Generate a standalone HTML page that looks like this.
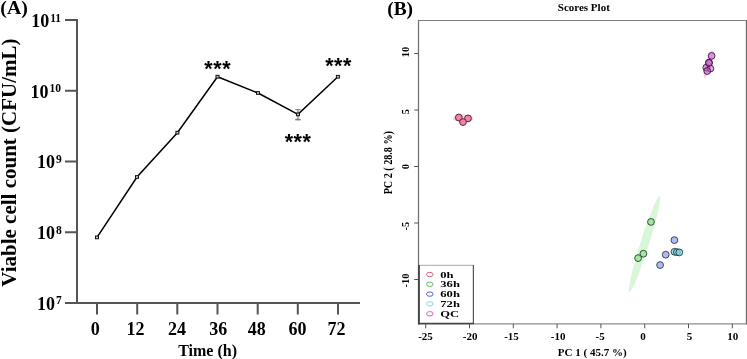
<!DOCTYPE html>
<html><head><meta charset="utf-8"><style>
html,body{margin:0;padding:0;background:#fff;width:747px;height:359px;overflow:hidden}
svg{display:block;will-change:transform}
text{font-family:"Liberation Serif",serif;font-weight:bold;fill:#000}
.sans{font-family:"Liberation Sans",sans-serif}
</style></head><body>
<svg width="747" height="359" viewBox="0 0 747 359">
<!-- ===== Panel A ===== -->
<text x="0.3" y="13.5" font-size="19.8">(A)</text>
<!-- axes -->
<g stroke="#555" stroke-width="2" fill="none">
<line x1="77" y1="19" x2="77" y2="304"/>
<line x1="65" y1="303" x2="360" y2="303"/>
<line x1="65" y1="20" x2="77" y2="20"/>
<line x1="65" y1="90.75" x2="77" y2="90.75"/>
<line x1="65" y1="161.5" x2="77" y2="161.5"/>
<line x1="65" y1="232.25" x2="77" y2="232.25"/>
<line x1="97" y1="303" x2="97" y2="314.5"/>
<line x1="137.2" y1="303" x2="137.2" y2="314.5"/>
<line x1="177.3" y1="303" x2="177.3" y2="314.5"/>
<line x1="217.5" y1="303" x2="217.5" y2="314.5"/>
<line x1="257.7" y1="303" x2="257.7" y2="314.5"/>
<line x1="297.8" y1="303" x2="297.8" y2="314.5"/>
<line x1="338" y1="303" x2="338" y2="314.5"/>
</g>
<!-- y tick labels -->
<g font-size="18" text-anchor="end">
<text x="61" y="27">10<tspan font-size="11.5" dy="-5.5" dx="1">11</tspan></text>
<text x="61" y="97.8">10<tspan font-size="11.5" dy="-5.5" dx="1">10</tspan></text>
<text x="61.8" y="168.4">10<tspan font-size="11.5" dy="-5.5" dx="1">9</tspan></text>
<text x="61.8" y="239">10<tspan font-size="11.5" dy="-5.5" dx="1">8</tspan></text>
<text x="61.8" y="309.7">10<tspan font-size="11.5" dy="-5.5" dx="1">7</tspan></text>
</g>
<!-- x tick labels -->
<g font-size="18" text-anchor="middle">
<text x="95.3" y="334.6">0</text>
<text x="135.4" y="334.6">12</text>
<text x="177.1" y="334.6">24</text>
<text x="218.3" y="334.6">36</text>
<text x="256.8" y="334.6">48</text>
<text x="297.6" y="334.6">60</text>
<text x="336.5" y="334.6">72</text>
</g>
<text x="207.6" y="355.7" font-size="16" text-anchor="middle">Time (h)</text>
<text transform="translate(15.6,162.6) rotate(-90)" font-size="21" text-anchor="middle">Viable cell count (CFU/mL)</text>
<!-- error bar -->
<g stroke="#7a7a7a">
<line x1="297.95" y1="109.6" x2="297.95" y2="119.6" stroke-width="1.2"/>
<line x1="295.3" y1="109.6" x2="300.6" y2="109.6" stroke-width="1"/>
<line x1="295.3" y1="119.6" x2="300.6" y2="119.6" stroke-width="1.6"/>
</g>
<!-- data line -->

<polyline points="97,237.4 137,177 177.4,132.7 217.5,76.7 258,93 297.95,114.4 337.9,76.75" fill="none" stroke="#000" stroke-width="1.5" stroke-linejoin="miter"/>
<g fill="#c4c4c4" stroke="#111" stroke-width="1">
<rect x="95.50" y="236.05" width="3" height="2.7"/>
<rect x="135.50" y="175.65" width="3" height="2.7"/>
<rect x="175.90" y="131.35" width="3" height="2.7"/>
<rect x="216.00" y="75.35" width="3" height="2.7"/>
<rect x="256.50" y="91.65" width="3" height="2.7"/>
<rect x="296.45" y="113.05" width="3" height="2.7"/>
<rect x="336.40" y="75.40" width="3" height="2.7"/>
</g>

<!-- asterisks -->
<g class="sans" font-size="21.5" text-anchor="middle" letter-spacing="0.6">
<text class="sans" x="217.8" y="76.2">***</text>
<text class="sans" x="298.1" y="148.9">***</text>
<text class="sans" x="338.6" y="73.2">***</text>
</g>

<!-- ===== Panel B ===== -->
<text x="387.2" y="15" font-size="19.4">(B)</text>
<text x="583.8" y="10.9" font-size="11" text-anchor="middle">Scores Plot</text>
<line x1="417.9" y1="20.46" x2="747" y2="20.46" stroke="#7d7d7d" stroke-width="1.1"/>
<line x1="418.5" y1="20" x2="418.5" y2="324.5" stroke="#707070" stroke-width="1.25"/>
<line x1="746.4" y1="20" x2="746.4" y2="324.5" stroke="#707070" stroke-width="1.2"/>
<line x1="418" y1="323.9" x2="747" y2="323.9" stroke="#8c8c8c" stroke-width="1.4"/>
<!-- ellipses -->
<ellipse cx="463.2" cy="118.4" rx="10.3" ry="3.8" fill="#f8ccd9"/>
<ellipse cx="644.45" cy="244.3" rx="50.3" ry="4.3" fill="#d8f6d8" transform="rotate(-72.5 644.45 244.3)"/>
<ellipse cx="708.5" cy="64" rx="14" ry="3" fill="#f0c8f0" transform="rotate(-74 708.5 64)"/>
<!-- points -->
<g stroke="#333" stroke-width="0.9">
<g fill="#ef84a8" stroke="#4a2030">
<circle cx="458.8" cy="117.5" r="3.4"/>
<circle cx="468" cy="118.4" r="3.4"/>
<circle cx="463" cy="122.1" r="3.4"/>
</g>
<g fill="#a2e8a2" stroke="#2a3f2a">
<circle cx="650.95" cy="221.9" r="3.4"/>
<circle cx="643.4" cy="253.7" r="3.4"/>
<circle cx="638.1" cy="258.1" r="3.4"/>
</g>
<g fill="#b2bbf0" stroke="#30344a">
<circle cx="674.4" cy="240.1" r="3.4"/>
<circle cx="665.7" cy="254.7" r="3.4"/>
<circle cx="660.1" cy="265.05" r="3.4"/>
</g>
<g fill="#7fd6e3" fill-opacity="0.75" stroke="#22383c">
<circle cx="674.5" cy="251.8" r="3.4"/>
<circle cx="676.9" cy="252.1" r="3.4"/>
<circle cx="679.3" cy="252.4" r="3.4"/>
</g>
<g fill="#c85ad2" fill-opacity="0.55" stroke="#3a1a3a">
<circle cx="706.3" cy="67.6" r="3.4"/>
<circle cx="710.4" cy="68.6" r="3.4"/>
<circle cx="707.2" cy="71" r="3.4"/>
<circle cx="708.9" cy="62.7" r="3.4"/>
<circle cx="709.0" cy="62.9" r="3.4"/>
<circle cx="711.6" cy="55.9" r="3.4"/>
</g>
</g>
<!-- ticks -->
<g stroke="#555" stroke-width="1">
<line x1="414.2" y1="53.5" x2="418.5" y2="53.5"/>
<line x1="414.2" y1="110" x2="418.5" y2="110"/>
<line x1="414.2" y1="166.5" x2="418.5" y2="166.5"/>
<line x1="414.2" y1="223" x2="418.5" y2="223"/>
<line x1="414.2" y1="279.5" x2="418.5" y2="279.5"/>
<line x1="425.7" y1="323.9" x2="425.7" y2="328.3"/>
<line x1="469.5" y1="323.9" x2="469.5" y2="328.3"/>
<line x1="513.3" y1="323.9" x2="513.3" y2="328.3"/>
<line x1="557.1" y1="323.9" x2="557.1" y2="328.3"/>
<line x1="600.9" y1="323.9" x2="600.9" y2="328.3"/>
<line x1="644.7" y1="323.9" x2="644.7" y2="328.3"/>
<line x1="688.5" y1="323.9" x2="688.5" y2="328.3"/>
<line x1="732.3" y1="323.9" x2="732.3" y2="328.3"/>
</g>
<g font-size="11" text-anchor="middle">
<text x="425.5" y="339.9">-25</text>
<text x="470.2" y="339.9">-20</text>
<text x="511.5" y="339.9">-15</text>
<text x="558.2" y="339.9">-10</text>
<text x="600.2" y="339.9">-5</text>
<text x="642.9" y="339.9">0</text>
<text x="689.5" y="339.9">5</text>
<text x="732.7" y="339.9">10</text>
</g>
<g font-size="11" text-anchor="middle">
<text transform="translate(409,52.1) rotate(-90)" font-size="10.5">10</text>
<text transform="translate(409,111.5) rotate(-90)" font-size="10.5">5</text>
<text transform="translate(409,166.5) rotate(-90)" font-size="10.5">0</text>
<text transform="translate(409,226) rotate(-90)" font-size="10.5">-5</text>
<text transform="translate(409,280.5) rotate(-90)" font-size="10.5">-10</text>
</g>
<text x="592.2" y="355.7" font-size="11" text-anchor="middle">PC 1 ( 45.7 %)</text>
<text transform="translate(391.5,162.7) rotate(-90) scale(0.94,1.1)" font-size="10.8" text-anchor="middle">PC 2 ( 28.8 %)</text>
<!-- legend -->
<rect x="418.9" y="265.3" width="54.5" height="58" fill="#fff"/>
<line x1="418.9" y1="265.3" x2="473.4" y2="265.3" stroke="#a8a8a8" stroke-width="1"/>
<line x1="419" y1="265" x2="419" y2="324.2" stroke="#3a3a3a" stroke-width="1.7"/>
<line x1="473.4" y1="265" x2="473.4" y2="324" stroke="#555" stroke-width="1.2"/>
<line x1="418.2" y1="323.5" x2="474" y2="323.5" stroke="#444" stroke-width="1.3"/>
<g fill="none" stroke-width="1">
<ellipse cx="429.8" cy="274.5" rx="3.3" ry="2.2" stroke="#e06080"/>
<ellipse cx="429.8" cy="284.3" rx="3.3" ry="2.2" stroke="#60c060"/>
<ellipse cx="429.8" cy="294.1" rx="3.3" ry="2.2" stroke="#5060d0"/>
<ellipse cx="429.8" cy="303.9" rx="3.3" ry="2.2" stroke="#80d8e8"/>
<ellipse cx="429.8" cy="313.8" rx="3.3" ry="2.2" stroke="#d060d0"/>
</g>
<g font-size="8.4">
<text transform="translate(440.3,277.8) scale(1.5,1)">0h</text>
<text transform="translate(440.3,287.1) scale(1.5,1)">36h</text>
<text transform="translate(440.3,297.4) scale(1.5,1)">60h</text>
<text transform="translate(440.3,307.2) scale(1.5,1)">72h</text>
<text transform="translate(440.3,317) scale(1.5,1)">QC</text>
</g>
</svg>
</body></html>
